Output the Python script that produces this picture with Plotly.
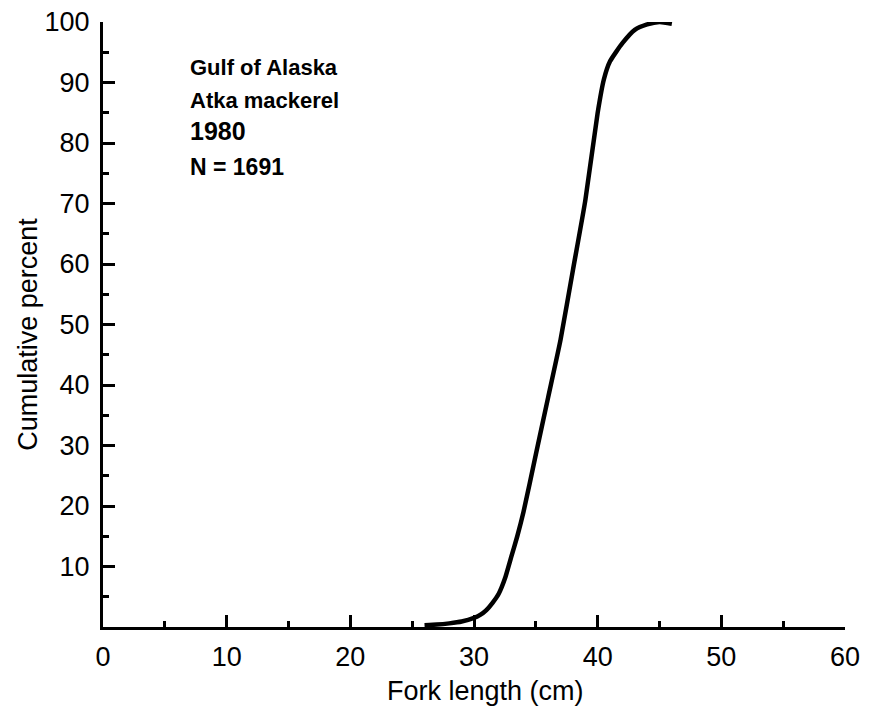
import plotly.graph_objects as go

# Data
fork_length_cm = [26, 27, 28, 29, 30, 30.5, 31, 31.5, 32, 32.5, 33, 33.5, 34, 35, 36, 37, 38, 39, 40, 40.5, 41, 42, 43, 44, 45, 46]
cumulative_pct = [0.3, 0.4, 0.6, 0.9, 1.5, 2.0, 2.8, 4.0, 5.5, 8.0, 11.5, 15, 19, 28.5, 38, 47.5, 59, 70.5, 85, 90.5, 93.5, 96.5, 98.7, 99.6, 100, 99.7]

x_ticks = [0, 10, 20, 30, 40, 50, 60]
y_ticks = [10, 20, 30, 40, 50, 60, 70, 80, 90, 100]

label_lines = ["Gulf of Alaska", "Atka mackerel"]
year_label = "1980"
n_label = "N = 1691"
x_title = "Fork length (cm)"
y_title = "Cumulative percent"

FONT = "Liberation Sans, Arial, Helvetica, sans-serif"

fig = go.Figure()
fig.add_trace(go.Scatter(
    x=fork_length_cm, y=cumulative_pct, mode="lines",
    line=dict(color="black", width=4.5, shape="spline", smoothing=0.5),
    showlegend=False, hoverinfo="skip",
))

axis_common = dict(
    showgrid=False, zeroline=False, showline=True, linecolor="black", linewidth=3,
    ticks="inside", ticklen=12, tickwidth=3, tickcolor="black",
    tickfont=dict(family=FONT, size=27, color="black"),
    minor=dict(dtick=5, ticks="inside", ticklen=6, tickwidth=3, tickcolor="black", showgrid=False),
    automargin=False, ticklabeloverflow="allow",
)

fig.update_xaxes(
    range=[0, 60], tickvals=x_ticks, ticktext=[str(v) for v in x_ticks],
    ticklabelstandoff=4,
    **axis_common,
)
fig.update_yaxes(
    range=[0, 100], tickvals=y_ticks, ticktext=[str(v) for v in y_ticks],
    ticklabelstandoff=5,
    **axis_common,
)

# axis titles as annotations (paper coordinates)
fig.add_annotation(x=0.515, y=-0.105, xref="paper", yref="paper", text=x_title,
                   showarrow=False, xanchor="center", yanchor="middle",
                   font=dict(family=FONT, size=27, color="black"))
fig.add_annotation(x=-0.101, y=0.483, xref="paper", yref="paper", text=y_title,
                   showarrow=False, xanchor="center", yanchor="middle", textangle=-90,
                   font=dict(family=FONT, size=27, color="black"))

ys = [92.5, 87.1]
for txt, yv in zip(label_lines, ys):
    fig.add_annotation(x=6.85, y=yv, xref="x", yref="y", text=f"<b>{txt}</b>",
                       showarrow=False, xanchor="left", yanchor="middle",
                       font=dict(family=FONT, size=22, color="black"))
fig.add_annotation(x=6.85, y=82.0, xref="x", yref="y", text=f"<b>{year_label}</b>",
                   showarrow=False, xanchor="left", yanchor="middle",
                   font=dict(family=FONT, size=25, color="black"))
fig.add_annotation(x=6.85, y=76.0, xref="x", yref="y", text=f"<b>{n_label}</b>",
                   showarrow=False, xanchor="left", yanchor="middle",
                   font=dict(family=FONT, size=23, color="black"))

fig.update_layout(
    width=869, height=708,
    margin=dict(l=95, r=32, t=14, b=89),
    paper_bgcolor="white", plot_bgcolor="white",
    font=dict(family=FONT, color="black"),
)

fig.write_html("out.html")
